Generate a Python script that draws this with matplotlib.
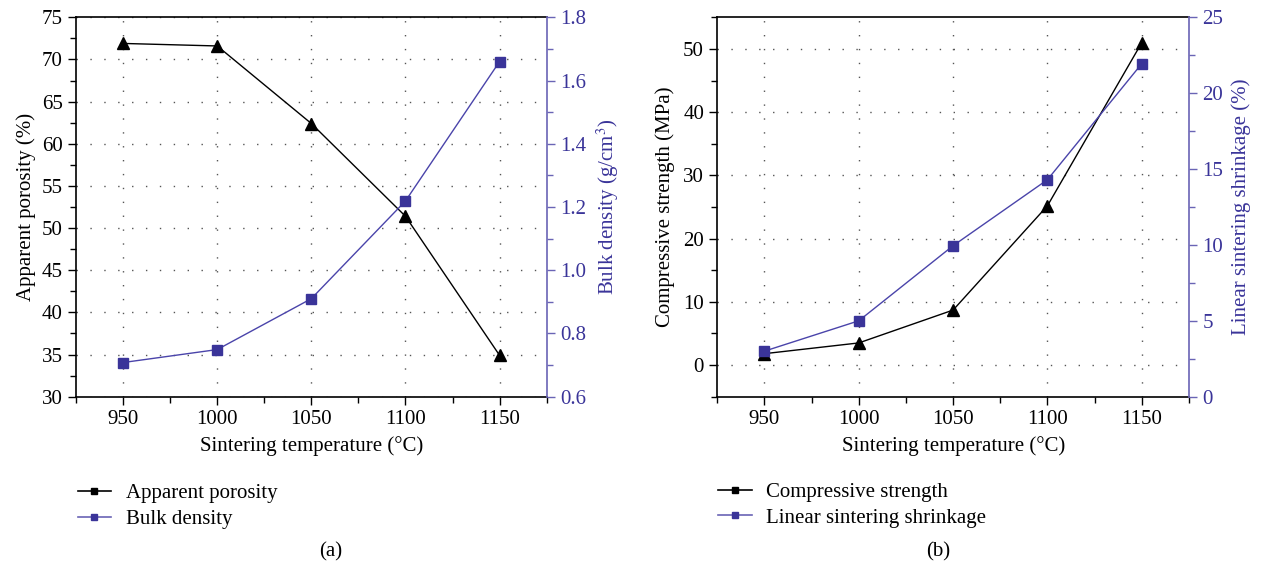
import matplotlib
matplotlib.use("Agg")
import matplotlib.pyplot as plt
from matplotlib.lines import Line2D
from matplotlib.ticker import MultipleLocator

plt.rcParams["font.family"] = ["Liberation Serif", "DejaVu Serif"]
plt.rcParams["mathtext.fontset"] = "stix"

# data
temps = [950, 1000, 1050, 1100, 1150]
porosity = [71.9, 71.6, 62.4, 51.4, 34.9]
bulk_density = [0.708, 0.749, 0.91, 1.219, 1.66]
comp_strength = [1.8, 3.5, 8.7, 25.2, 51.0]
shrinkage = [3.0, 5.0, 9.95, 14.3, 21.95]

BLACK = "black"
BLUE = "#3a3499"
BLUE_LINE = "#4a44aa"
BLUE_AX = "#6a64b5"
FS = 15


def style_axes(ax, ax2, xlim):
    ax.set_xlim(*xlim)
    ax.xaxis.set_major_locator(MultipleLocator(50))
    ax.xaxis.set_minor_locator(MultipleLocator(25))
    ax.tick_params(which="both", direction="out", labelsize=FS, top=False)
    ax.tick_params(which="major", length=6, width=1)
    ax.tick_params(which="minor", length=4, width=1)
    ax.grid(True, which="major", color="#555555", linestyle=(0, (1, 9)), lw=1)
    for s in ("left", "bottom", "top"):
        ax.spines[s].set_linewidth(1.2)
    ax.spines["right"].set_visible(False)
    ax2.spines["right"].set_color(BLUE_AX)
    ax2.spines["right"].set_linewidth(1.2)
    for s in ("left", "bottom", "top"):
        ax2.spines[s].set_visible(False)
    ax2.tick_params(axis="y", which="both", colors=BLUE_AX, labelcolor=BLUE,
                    labelsize=FS, direction="out")
    ax2.tick_params(which="major", length=6, width=1)
    ax2.tick_params(which="minor", length=4, width=1)
    ax.set_xlabel("Sintering temperature (°C)", fontsize=FS, labelpad=5)


def legend(fig, x, y, labels):
    handles = [
        Line2D([], [], color=BLACK, lw=1.2, marker="s", markersize=5,
               markerfacecolor=BLACK, markeredgecolor=BLACK),
        Line2D([], [], color=BLUE_AX, lw=1.2, marker="s", markersize=5,
               markerfacecolor=BLUE, markeredgecolor=BLUE),
    ]
    fig.legend(handles, labels, loc="upper left", bbox_to_anchor=(x, y),
               frameon=False, fontsize=FS, handlelength=1.6, handletextpad=0.7,
               labelspacing=0.3, borderaxespad=0)


fig = plt.figure(figsize=(12.61, 5.71), dpi=100)

# panel (a)
ax_a = fig.add_axes([0.0603, 0.3053, 0.3732, 0.6644])
ax_a2 = ax_a.twinx()
ax_a.plot(temps, porosity, color=BLACK, lw=1, marker="^", markersize=9, zorder=3)
ax_a2.plot(temps, bulk_density, color=BLUE_LINE, lw=1, marker="s", markersize=7,
           markerfacecolor=BLUE, markeredgecolor=BLUE, zorder=3)
ax_a.set_ylim(30, 75)
ax_a.yaxis.set_major_locator(MultipleLocator(5))
ax_a.yaxis.set_minor_locator(MultipleLocator(2.5))
ax_a2.set_ylim(0.6, 1.8)
ax_a2.yaxis.set_major_locator(MultipleLocator(0.2))
ax_a2.yaxis.set_minor_locator(MultipleLocator(0.1))
ax_a2.yaxis.set_major_formatter(plt.FormatStrFormatter("%.1f"))
ax_a.set_ylabel("Apparent porosity (%)", fontsize=FS, labelpad=4)
ax_a2.set_ylabel("Bulk density (g/cm$^3$)", fontsize=FS, color=BLUE, labelpad=6)
style_axes(ax_a, ax_a2, (925, 1175))

# panel (b)
ax_b = fig.add_axes([0.5688, 0.3053, 0.3741, 0.6644])
ax_b2 = ax_b.twinx()
ax_b.plot(temps, comp_strength, color=BLACK, lw=1, marker="^", markersize=9, zorder=3)
ax_b2.plot(temps, shrinkage, color=BLUE_LINE, lw=1, marker="s", markersize=7,
           markerfacecolor=BLUE, markeredgecolor=BLUE, zorder=3)
ax_b.set_ylim(-5, 55)
ax_b.yaxis.set_major_locator(MultipleLocator(10))
ax_b.yaxis.set_minor_locator(MultipleLocator(5))
ax_b2.set_ylim(0, 25)
ax_b2.yaxis.set_major_locator(MultipleLocator(5))
ax_b2.yaxis.set_minor_locator(MultipleLocator(2.5))
ax_b.set_ylabel("Compressive strength (MPa)", fontsize=FS, labelpad=6)
ax_b2.set_ylabel("Linear sintering shrinkage (%)", fontsize=FS, color=BLUE, labelpad=6)
style_axes(ax_b, ax_b2, (925, 1175))

legend(fig, 0.055, 0.168, ["Apparent porosity", "Bulk density"])
legend(fig, 0.563, 0.170, ["Compressive strength", "Linear sintering shrinkage"])

fig.text(0.262, 0.033, "(a)", ha="center", va="center", fontsize=FS)
fig.text(0.744, 0.033, "(b)", ha="center", va="center", fontsize=FS)

fig.savefig("out.png", dpi=100)
